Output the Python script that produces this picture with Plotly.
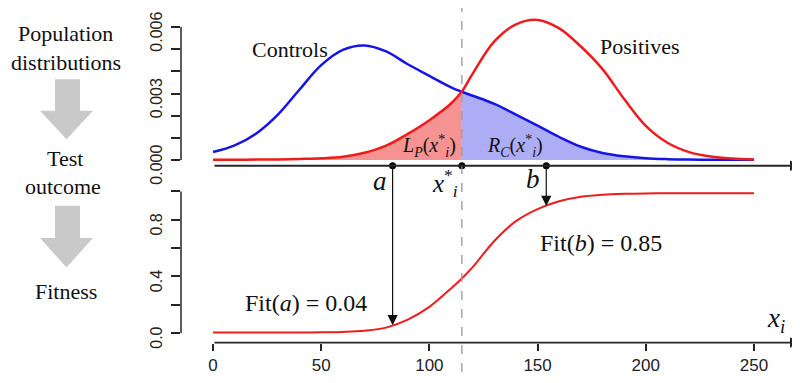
import numpy as np
import plotly.graph_objects as go

# ---------------- data ----------------
x_vals = [0, 10, 20, 30, 40, 50, 60, 70, 80, 90, 100, 110, 115, 120, 130, 140,
          150, 160, 170, 180, 190, 200, 210, 220, 230, 240, 250]
controls = [0.00036, 0.00066, 0.00120, 0.00205, 0.00318, 0.00428, 0.00497, 0.00517,
            0.00490, 0.00432, 0.00380, 0.00328, 0.00308, 0.00290, 0.00253, 0.00205,
            0.00155, 0.00104, 0.00060, 0.00032, 0.00017, 0.00008, 0.00004, 0.00002,
            0.00001, 0.00001, 0.00001]
positives = [0.00001, 0.00001, 0.00002, 0.00003, 0.00005, 0.00008, 0.00015, 0.00033,
             0.00065, 0.00118, 0.00180, 0.00255, 0.00309, 0.00390, 0.00535, 0.00612,
             0.00632, 0.00594, 0.00512, 0.00410, 0.00275, 0.00154, 0.00078, 0.00036,
             0.00016, 0.00007, 0.00003]
fitness = [0.003, 0.003, 0.003, 0.004, 0.004, 0.005, 0.008, 0.016, 0.038, 0.095, 0.185,
           0.315, 0.385, 0.465, 0.650, 0.790, 0.875, 0.930, 0.962, 0.976, 0.983, 0.986,
           0.987, 0.987, 0.987, 0.987, 0.987]

threshold = 115
point_a = 83
point_b = 154

x_tickvals = [0, 50, 100, 150, 200, 250]
top_tickvals = [0, 0.001, 0.002, 0.003, 0.004, 0.005, 0.006]
top_ticktext = ["0.000", "", "", "0.003", "", "", "0.006"]
bot_tickvals = [0, 0.2, 0.4, 0.6, 0.8, 1.0]
bot_ticktext = ["0.0", "", "0.4", "", "0.8", ""]

# ---------------- layout helpers ----------------
W, H = 800, 383
def px(x): return x / W
def py(y): return 1 - y / H

X_RANGE = [-14.79, 271.72]
TOP_RANGE = [-0.000257, 0.006857]
BOT_RANGE = [-0.0671, 1.1812]
SANS = "Liberation Sans"
SERIF = "Liberation Serif"
RED = "#ee1c1c"
BLUE = "#1515e6"
AXC = "#262626"

fig = go.Figure()

xa = np.array(x_vals)
ca = np.array(controls)
pa = np.array(positives)
mask_l = xa <= threshold
mask_r = xa >= threshold

fig.add_trace(go.Scatter(x=xa[mask_l], y=pa[mask_l], mode="lines", fill="tozeroy",
                         fillcolor="#f59292", line=dict(width=0, shape="spline"),
                         xaxis="x", yaxis="y", hoverinfo="skip", showlegend=False))
fig.add_trace(go.Scatter(x=xa[mask_r], y=ca[mask_r], mode="lines", fill="tozeroy",
                         fillcolor="#adadf5", line=dict(width=0, shape="spline"),
                         xaxis="x", yaxis="y", hoverinfo="skip", showlegend=False))
fig.add_trace(go.Scatter(x=x_vals, y=controls, mode="lines",
                         line=dict(color=BLUE, width=2.5, shape="spline"),
                         xaxis="x", yaxis="y", showlegend=False))
fig.add_trace(go.Scatter(x=x_vals, y=positives, mode="lines",
                         line=dict(color=RED, width=2.5, shape="spline"),
                         xaxis="x", yaxis="y", showlegend=False))
fig.add_trace(go.Scatter(x=x_vals, y=fitness, mode="lines",
                         line=dict(color=RED, width=2, shape="spline"),
                         xaxis="x2", yaxis="y2", showlegend=False))
fig.add_trace(go.Scatter(x=[point_a, threshold, point_b], y=[TOP_RANGE[0]] * 3,
                         mode="markers", marker=dict(color="black", size=7),
                         cliponaxis=False, xaxis="x", yaxis="y", showlegend=False))

fit_a = float(np.interp(point_a, x_vals, fitness))
fit_b = float(np.interp(point_b, x_vals, fitness))

shapes = [
    dict(type="line", xref="x domain", yref="y", x0=0, x1=0, y0=0, y1=0.006,
         line=dict(color=AXC, width=1.5)),
    dict(type="line", xref="x2 domain", yref="y2", x0=0, x1=0, y0=0, y1=1.0,
         line=dict(color=AXC, width=1.5)),
    dict(type="line", xref="x", yref="paper", x0=threshold, x1=threshold, y0=0, y1=1,
         line=dict(color="#9a9a9a", width=1.3, dash="dash")),
]
# gray flow arrows on the left
for (y0, yh, y1) in [(75, 108, 138), (208, 242, 273)]:
    path = (f"M{px(47)},{py(y0)} L{px(72)},{py(y0)} L{px(72)},{py(yh)} "
            f"L{px(85)},{py(yh)} L{px(58.5)},{py(y1)} L{px(32)},{py(yh)} "
            f"L{px(47)},{py(yh)} Z")
    shapes.append(dict(type="path", xref="paper", yref="paper", path=path,
                       fillcolor="#c9c9c9", line=dict(width=0)))

annotations = [
    # axis arrows
    dict(xref="x", yref="y", x=X_RANGE[1] - 0.3, y=TOP_RANGE[0], axref="x", ayref="y",
         ax=0, ay=TOP_RANGE[0], text="", showarrow=True, arrowhead=2, arrowsize=1.15,
         arrowwidth=1.8, arrowcolor=AXC),
    dict(xref="x2", yref="y2", x=X_RANGE[1] - 0.3, y=BOT_RANGE[0], axref="x2", ayref="y2",
         ax=0, ay=BOT_RANGE[0], text="", showarrow=True, arrowhead=2, arrowsize=1.15,
         arrowwidth=1.8, arrowcolor=AXC),
    # vertical arrows a and b
    dict(xref="x2", yref="y2", x=point_a, y=fit_a, axref="x2", ayref="y2",
         ax=point_a, ay=BOT_RANGE[1], text="", showarrow=True, arrowhead=2,
         arrowsize=1.7, arrowwidth=1.2, arrowcolor="#111"),
    dict(xref="x2", yref="y2", x=point_b, y=fit_b, axref="x2", ayref="y2",
         ax=point_b, ay=BOT_RANGE[1], text="", showarrow=True, arrowhead=2,
         arrowsize=1.7, arrowwidth=1.2, arrowcolor="#111"),
]

def label(text, x, y, size, xref="paper"):
    annotations.append(dict(xref=xref, yref="paper",
                            x=(px(x) if xref == "paper" else x), y=py(y),
                            text=text, showarrow=False, xanchor="center", yanchor="middle",
                            font=dict(family=SERIF, size=size, color="#111")))

label("Population", 58, 27, 22)
label("distributions", 58, 57, 22)
label("Test", 57, 158, 22)
label("outcome", 55, 188, 22)
label("Fitness", 58, 298, 22)
label("Controls", 282, 44, 22)
label("Positives", 631, 41, 22)
label("<i>L</i><sub><i>P</i></sub>(<i>x</i><sup>*</sup><sub><i>i</i></sub>)", 421, 145, 20)
label("<i>R</i><sub><i>C</i></sub>(<i>x</i><sup>*</sup><sub><i>i</i></sub>)", 507, 145, 20)
label("<i>a</i>", point_a - 6, 182, 27, xref="x")
label("<i>x</i><sup>*</sup><sub><i>i</i></sub>", threshold - 8, 184, 25, xref="x")
label("<i>b</i>", point_b - 6, 180, 27, xref="x")
label("Fit(<i>a</i>) = 0.04", 298, 310, 24)
label("Fit(<i>b</i>) = 0.85", 593, 247, 24)
label("<i>x</i><sub><i>i</i></sub>", 768, 328, 27)

common_x = dict(domain=[px(173), px(793)], range=X_RANGE, showgrid=False,
                zeroline=False, showline=False)
ytick_common = dict(showgrid=False, zeroline=False, showline=False, ticks="outside",
                    ticklen=9, tickwidth=1.5, tickcolor=AXC, tickangle=-90,
                    ticklabelshift=7, ticklabelstandoff=3,
                    tickfont=dict(family=SANS, size=16, color="#222"))
fig.update_layout(
    width=W, height=H, margin=dict(l=0, r=0, t=0, b=0),
    paper_bgcolor="white", plot_bgcolor="white", showlegend=False,
    xaxis=dict(**common_x, anchor="y", showticklabels=False, ticks=""),
    yaxis=dict(domain=[py(166), 1], range=TOP_RANGE, anchor="x",
               tickvals=top_tickvals, ticktext=top_ticktext, **ytick_common),
    xaxis2=dict(**common_x, anchor="y2", tickvals=x_tickvals, ticks="outside",
                ticklen=7, tickwidth=1.5, tickcolor=AXC,
                tickfont=dict(family=SANS, size=17, color="#222")),
    yaxis2=dict(domain=[py(352), py(166)], range=BOT_RANGE, anchor="x2",
                tickvals=bot_tickvals, ticktext=bot_ticktext, **ytick_common),
    shapes=shapes, annotations=annotations,
)

fig.write_html("out.html")
